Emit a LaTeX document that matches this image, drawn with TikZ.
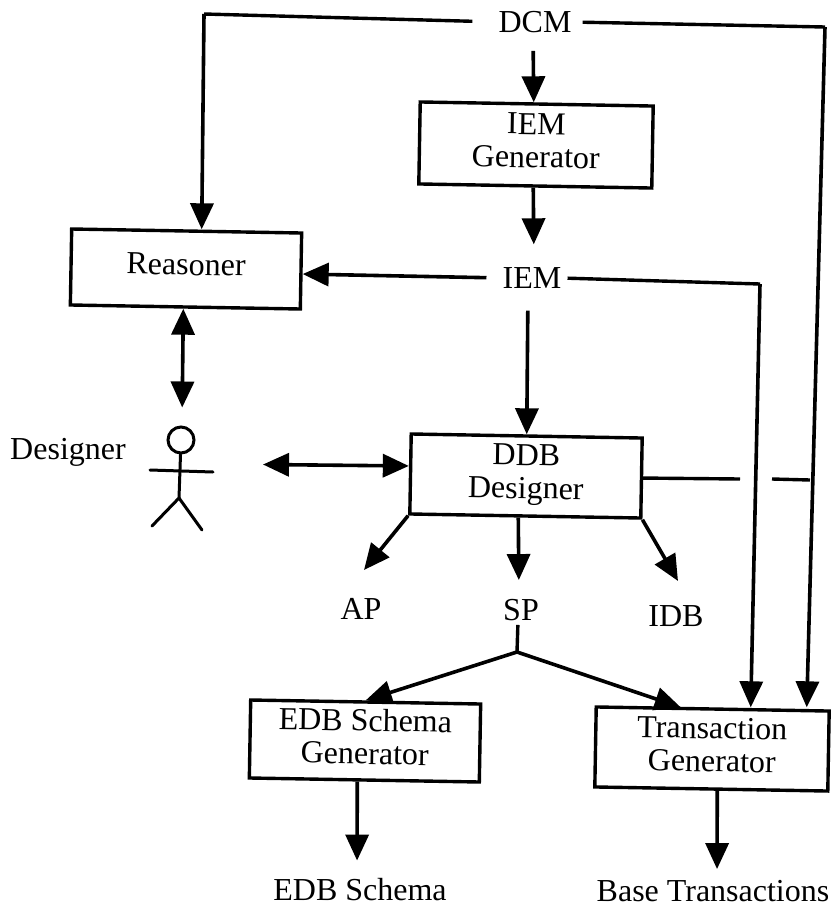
\documentclass[tikz,border=0pt]{standalone}
\usepackage{fontspec}
\setmainfont{Liberation Serif}
\usetikzlibrary{arrows.meta}
\tikzset{
  blockbox/.style={draw,line width=3.4pt,rotate=-1,inner sep=0pt,align=center,text depth=9pt,font=\fontsize{32}{33}\selectfont},
  blocktext/.style={inner sep=0pt,font=\fontsize{32}{33}\selectfont},
  conn/.style={line width=3.4pt},
  arr/.style={line width=3.6pt,-{Triangle[length=26pt,width=23pt]}},
  dblarr/.style={line width=3.6pt,{Triangle[length=26pt,width=23pt]}-{Triangle[length=26pt,width=23pt]}},
  figline/.style={line width=3pt,line cap=round}
}
\begin{document}
\begin{tikzpicture}[x=1pt,y=-1pt]
\useasboundingbox (0,0) rectangle (831,908);
\node[blocktext] (dcm) at (535,22) {DCM};
\node[blockbox,minimum width=233pt,minimum height=82pt] (iemgen) at (536,145) {IEM\\Generator};
\node[blockbox,minimum width=230pt,minimum height=76pt] (reasoner) at (186,269) {Reasoner};
\node[blocktext] (iem) at (532,278) {IEM};
\node[blocktext] (designer) at (68,452) {Designer};
\node[blockbox,minimum width=231pt,minimum height=80pt] (ddb) at (526,476) {DDB\\Designer};
\node[blocktext] (ap) at (361,609) {AP};
\node[blocktext] (sp) at (521,610) {SP};
\node[blocktext] (idb) at (676,616) {IDB};
\node[blockbox,minimum width=230pt,minimum height=78pt] (edbgen) at (365,741) {EDB Schema\\Generator};
\node[blockbox,minimum width=233pt,minimum height=80pt] (transgen) at (712,749) {Transaction\\Generator};
\node[blocktext] (edb) at (360,890) {EDB Schema};
\node[blocktext] (base) at (713,891) {Base Transactions};
% stick figure
\node[draw,circle,line width=3pt,minimum size=26pt,inner sep=0pt] (head) at (181,440) {};
\coordinate (hip) at (179,498);
\coordinate (arml) at (150,470);
\coordinate (armr) at (213,472);
\draw[figline] (head) -- (hip) -- (152,526);
\draw[figline] (hip) -- (202,530);
\draw[figline] (arml) -- (armr);
% free ends
\coordinate (dcmleft) at (204,14);
\coordinate (dcmright) at (825,27);
\coordinate (iemright) at (760,284);
\coordinate (gapl) at (740,479);
\coordinate (gapr) at (772,479);
\coordinate (dcmjoin) at (810,480);
\coordinate (aptip) at (364,570);
\coordinate (idbtip) at (678,581);
\coordinate (spfork) at (517,652);
% connectors
\draw[conn,shorten <=26pt] (dcm.west) -- (dcmleft);
\draw[arr] (dcmleft) -- ([xshift=15pt]reasoner.north);
\draw[conn,shorten <=11pt] (dcm.east) -- (dcmright);
\draw[arr] (dcmright) -- ([xshift=94pt]transgen.north);
\draw[arr,shorten <=18pt] ([xshift=-2pt]dcm.south) -- ([xshift=-3pt]iemgen.north);
\draw[arr,shorten >=23pt] ([xshift=-2pt]iemgen.south) -- ([xshift=2pt]iem.north);
\draw[arr,shorten <=16pt] (iem.west) -- ([yshift=-3pt]reasoner.east);
\draw[conn,shorten <=6pt] (iem.east) -- (iemright);
\draw[arr] (iemright) -- ([xshift=38pt]transgen.north);
\draw[arr,shorten <=22pt] ([xshift=-4pt]iem.south) -- (ddb.north);
\draw[dblarr,shorten >=18pt] ([xshift=-2pt]reasoner.south) -- ([xshift=1pt]head.north);
\draw[dblarr,shorten <=50pt] ([yshift=8pt]armr) -- ([yshift=8pt]ddb.west);
\draw[conn] (ddb.east) -- (gapl);
\draw[conn] (gapr) -- (dcmjoin);
\draw[arr] (ddb.south west) -- (aptip);
\draw[arr,shorten >=19pt] ([xshift=-7pt]ddb.south) -- ([xshift=-2pt]sp.north);
\draw[arr] (ddb.south east) -- (idbtip);
\draw[conn,shorten <=4pt] ([xshift=-3pt]sp.south) -- (spfork);
\draw[arr] (spfork) -- (edbgen.north);
\draw[arr] (spfork) -- ([xshift=-32pt]transgen.north);
\draw[arr,shorten >=18pt] ([xshift=-7pt]edbgen.south) -- ([xshift=-3pt]edb.north);
\draw[arr,shorten >=11pt] ([xshift=6pt]transgen.south) -- ([xshift=4pt]base.north);
\end{tikzpicture}
\end{document}
